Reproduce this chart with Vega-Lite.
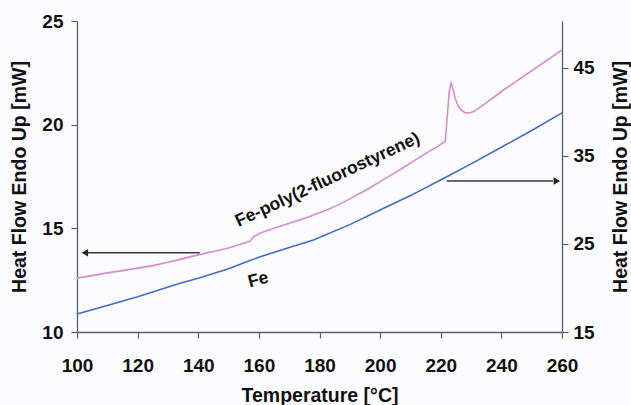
{
  "$schema": "https://vega.github.io/schema/vega-lite/v6.json",
  "width": 485,
  "height": 311,
  "autosize": {"type": "none"},
  "padding": {"left": 77, "top": 21, "right": 69, "bottom": 73},
  "background": "#fcfcfe",
  "config": {
    "view": {"stroke": null},
    "font": "Liberation Sans",
    "axis": {
      "labelFont": "Liberation Sans",
      "titleFont": "Liberation Sans",
      "labelFontWeight": "bold",
      "titleFontWeight": "bold",
      "labelFontSize": 19,
      "titleFontSize": 19.5,
      "labelColor": "#111",
      "titleColor": "#111",
      "domainColor": "#556066",
      "tickColor": "#556066",
      "domainWidth": 1.3,
      "tickWidth": 1.2,
      "tickSize": 6,
      "labelFlush": false,
      "labelOverlap": false,
      "grid": false
    }
  },
  "datasets": {
    "pink": [
      {"T": 100, "v": 12.6}, {"T": 105, "v": 12.72}, {"T": 110, "v": 12.85}, {"T": 115, "v": 12.96},
      {"T": 120, "v": 13.08}, {"T": 125, "v": 13.2}, {"T": 130, "v": 13.36}, {"T": 135, "v": 13.54},
      {"T": 140, "v": 13.72}, {"T": 145, "v": 13.88}, {"T": 150, "v": 14.05}, {"T": 155, "v": 14.28},
      {"T": 157, "v": 14.38}, {"T": 158.5, "v": 14.62}, {"T": 160.5, "v": 14.78}, {"T": 165, "v": 15.0},
      {"T": 170, "v": 15.25}, {"T": 175, "v": 15.48}, {"T": 178, "v": 15.64}, {"T": 182, "v": 15.86},
      {"T": 186, "v": 16.12}, {"T": 190, "v": 16.42}, {"T": 194, "v": 16.74}, {"T": 197, "v": 16.98},
      {"T": 200, "v": 17.25}, {"T": 204, "v": 17.6}, {"T": 208, "v": 17.96}, {"T": 211, "v": 18.24},
      {"T": 215, "v": 18.6}, {"T": 219, "v": 18.95}, {"T": 221.5, "v": 19.2}, {"T": 222.2, "v": 20.5},
      {"T": 222.8, "v": 21.6}, {"T": 223.4, "v": 22.0}, {"T": 224.0, "v": 21.75}, {"T": 224.8, "v": 21.25},
      {"T": 225.6, "v": 20.95}, {"T": 226.6, "v": 20.72}, {"T": 228.0, "v": 20.58}, {"T": 229.5, "v": 20.56},
      {"T": 231, "v": 20.64}, {"T": 235, "v": 21.05}, {"T": 240, "v": 21.6}, {"T": 245, "v": 22.1},
      {"T": 250, "v": 22.6}, {"T": 255, "v": 23.1}, {"T": 260, "v": 23.6}
    ],
    "blue": [
      {"T": 100, "v": 17.05}, {"T": 110, "v": 18.0}, {"T": 120, "v": 19.0}, {"T": 134, "v": 20.53},
      {"T": 140, "v": 21.1}, {"T": 150, "v": 22.2}, {"T": 156, "v": 22.99}, {"T": 160, "v": 23.5},
      {"T": 170, "v": 24.6}, {"T": 178, "v": 25.45}, {"T": 190, "v": 27.2}, {"T": 200, "v": 28.86},
      {"T": 210, "v": 30.5}, {"T": 222, "v": 32.65}, {"T": 230, "v": 34.1}, {"T": 240, "v": 36.0},
      {"T": 250, "v": 37.9}, {"T": 260, "v": 39.9}
    ],
    "arrows": [
      {"x1": 140.5, "x2": 103, "y": 13.82, "head": 102.6, "dir": "left"},
      {"x1": 222, "x2": 257, "y": 17.28, "head": 258.3, "dir": "right"}
    ],
    "labels": [
      {"T": 182.7, "v": 17.33, "text": "Fe-poly(2-fluorostyrene)", "angle": -25},
      {"T": 159.8, "v": 12.51, "text": "Fe", "angle": -15}
    ]
  },
  "encoding": {
    "x": {
      "field": "T",
      "type": "quantitative",
      "scale": {"domain": [100, 260], "nice": false},
      "axis": {
        "title": "Temperature [°C]",
        "values": [100, 120, 140, 160, 180, 200, 220, 240, 260],
        "labelPadding": 18,
        "titlePadding": 11
      }
    }
  },
  "layer": [
    {
      "layer": [
        {
          "data": {"name": "pink"},
          "mark": {"type": "line", "color": "#d58ad4", "strokeWidth": 1.6},
          "encoding": {
            "y": {
              "field": "v",
              "type": "quantitative",
              "scale": {"domain": [10, 25], "nice": false},
              "axis": {
                "title": "Heat Flow Endo Up [mW]",
                "orient": "left",
                "values": [10, 15, 20, 25],
                "labelPadding": 8,
                "titlePadding": 12
              }
            }
          }
        },
        {
          "data": {"name": "arrows"},
          "mark": {"type": "rule", "color": "#3a3a3a", "strokeWidth": 1.6},
          "encoding": {
            "x": {"field": "x1", "type": "quantitative"},
            "x2": {"field": "x2"},
            "y": {"field": "y", "type": "quantitative"}
          }
        },
        {
          "data": {"name": "arrows"},
          "mark": {"type": "point", "filled": true, "color": "#222", "opacity": 1, "size": 55},
          "encoding": {
            "x": {"field": "head", "type": "quantitative"},
            "y": {"field": "y", "type": "quantitative"},
            "shape": {
              "field": "dir",
              "type": "nominal",
              "scale": {"domain": ["left", "right"], "range": ["triangle-left", "triangle-right"]},
              "legend": null
            }
          }
        },
        {
          "data": {"name": "labels"},
          "mark": {"type": "text", "font": "Liberation Sans", "fontWeight": "bold", "fontSize": 17.5, "color": "#111", "align": "center", "baseline": "middle"},
          "encoding": {
            "y": {"field": "v", "type": "quantitative"},
            "text": {"field": "text"},
            "angle": {"field": "angle", "type": "quantitative", "scale": null}
          }
        }
      ]
    },
    {
      "data": {"name": "blue"},
      "mark": {"type": "line", "color": "#3e6cc8", "strokeWidth": 1.6},
      "encoding": {
        "y": {
          "field": "v",
          "type": "quantitative",
          "scale": {"domain": [15, 50.34], "nice": false},
          "axis": {
            "title": "Heat Flow Endo Up [mW]",
            "orient": "right",
            "values": [15, 25, 35, 45],
            "labelPadding": 5,
            "titlePadding": 36,
            "titleAngle": -90
          }
        }
      }
    }
  ],
  "resolve": {"scale": {"y": "independent"}, "axis": {"y": "independent"}}
}
